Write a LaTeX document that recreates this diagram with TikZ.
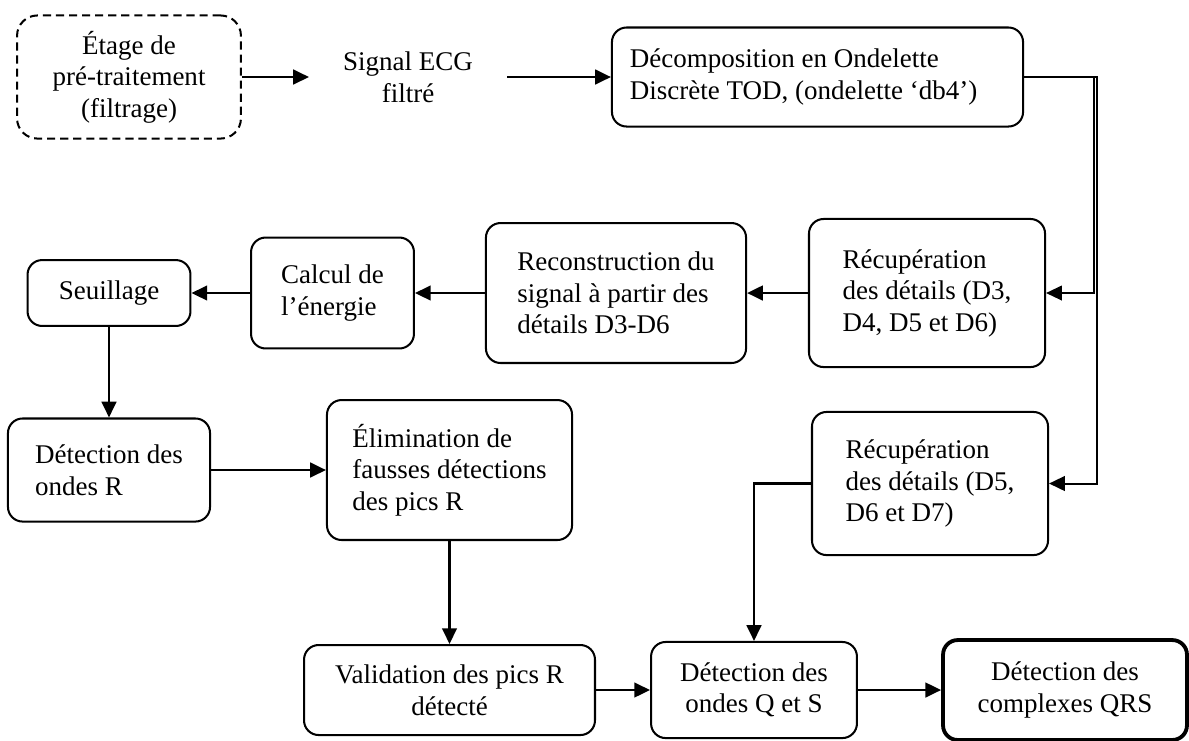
\documentclass[tikz,border=0pt]{standalone}
\usepackage{fontspec}
\setmainfont{Liberation Serif}
\usetikzlibrary{arrows.meta}
\begin{document}
\begin{tikzpicture}[x=0.4444pt, y=-0.4444pt, line width=0.9pt, >={Triangle[length=7pt,width=6.5pt]},
    box/.style={draw, rounded corners=6.5pt, inner sep=0pt, font=\fontsize{12}{14}\selectfont},
    fleche/.style={->, line width=1.1pt}]
  \useasboundingbox (0,0) rectangle (1189,740);
  \node[box, dashed, dash pattern=on 3.6pt off 2.2pt, rounded corners=9pt, align=center,
    minimum width=99.5pt, minimum height=54.7pt] (pre) at (129,77) {Étage de\\pré-traitement\\(filtrage)};
  \node[font=\fontsize{12}{14}\selectfont, align=center, inner sep=0pt, minimum width=87.1pt] (sig) at (408,77) {Signal ECG\\filtré};
  \node[box, align=flush left, text width=166.7pt, minimum width=182.7pt, minimum height=44pt] (tod) at (817.5,77)
    {Décomposition en Ondelette\\Discrète TOD, (ondelette ‘db4’)};
  \node[box, align=left, minimum width=104.9pt, minimum height=65.8pt] (rec1) at (927,293) {Récupération\\des détails (D3,\\D4, D5 et D6)};
  \node[box, align=left, minimum width=115.6pt, minimum height=62.2pt] (recon) at (616,293) {Reconstruction du\\signal à partir des\\détails D3-D6};
  \node[box, align=left, minimum width=72.4pt, minimum height=49.3pt] (calc) at (332.5,293) {Calcul de\\l’énergie};
  \node[box, minimum width=72.4pt, minimum height=29.3pt] (seuil) at (109,293) {Seuillage};
  \node[box, align=left, minimum width=89.8pt, minimum height=45.8pt] (detr) at (109,470) {Détection des\\ondes R};
  \node[box, align=left, minimum width=108.9pt, minimum height=62.2pt] (elim) at (449.5,470) {Élimination de\\fausses détections\\des pics R};
  \node[box, align=center, minimum width=129.3pt, minimum height=40pt] (valid) at (449.5,690) {Validation des pics R\\détecté};
  \node[box, align=left, minimum width=104.9pt, minimum height=63.6pt] (rec2) at (930,483.5) {Récupération\\des détails (D5,\\D6 et D7)};
  \node[box, align=center, minimum width=91.5pt, minimum height=42.7pt] (qs) at (754,690) {Détection des\\ondes Q et S};
  \node[box, line width=1.7pt, align=center, minimum width=108.4pt, minimum height=44.4pt] (qrs) at (1065,690) {Détection des\\complexes QRS};
  \draw[fleche] (pre) -- (sig);
  \draw[fleche] (sig) -- (tod);
  \draw[->, line width=0.7pt] (tod.east) -- ++(70,0) |- (rec1);
  \draw[->, line width=0.9pt] (tod.east) -- ++(73,0) |- (rec2);
  \draw[fleche] (rec1) -- (recon);
  \draw[fleche] (recon) -- (calc);
  \draw[fleche] (calc) -- (seuil);
  \draw[fleche] (seuil) -- (detr);
  \draw[fleche] (detr) -- (elim);
  \draw[fleche] (elim) -- (valid);
  \draw[fleche] (rec2) -| (qs);
  \draw[fleche] (valid) -- (qs);
  \draw[fleche] (qs) -- (qrs);
\end{tikzpicture}
\end{document}
